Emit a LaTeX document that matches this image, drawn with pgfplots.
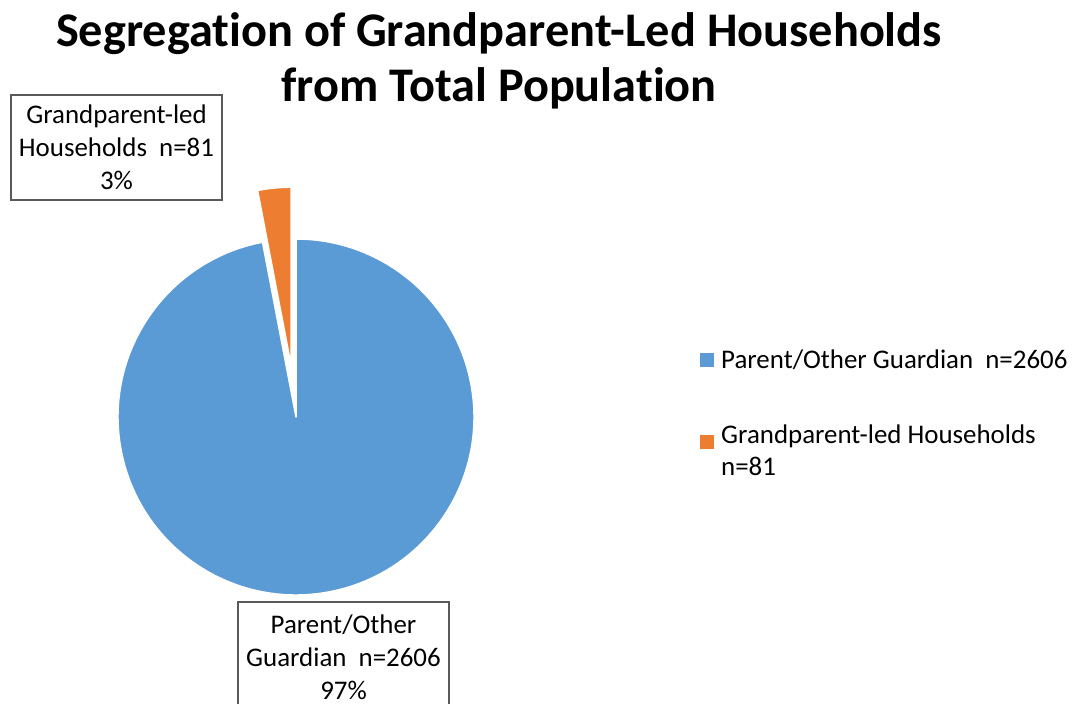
\documentclass[border=0pt]{standalone}
\usepackage{pgfplots}
\pgfplotsset{compat=1.18}
\usepackage{fontspec}
\setmainfont[Ligatures={NoCommon}]{Carlito}
\definecolor{pieblue}{HTML}{5B9BD5}
\definecolor{pieorange}{HTML}{ED7D31}
\definecolor{boxgray}{HTML}{595959}
\begin{document}
\begin{tikzpicture}
% data
\def\vA{2606}% Parent/Other Guardian
\def\vB{81}% Grandparent-led Households
\pgfmathsetmacro{\angB}{\vB/(\vA+\vB)*360}
\pgfmathsetmacro{\startA}{90+\angB}
\pgfmathsetmacro{\midB}{90+\angB/2}
\begin{axis}[at={(0,0)},anchor=south west,scale only axis,
  width=1072bp,height=704bp,xmin=0,xmax=1072,ymin=0,ymax=704,
  hide axis,clip=false]
% Parent/Other slice
\fill[pieblue,draw=white,line width=1.5bp,line join=round]
  (axis cs:296,287) -- ++(\startA:178bp) arc[start angle=\startA,end angle=450,radius=178bp] -- cycle;
% Grandparent slice (exploded)
\fill[pieorange,draw=white,line width=1.5bp,line join=round]
  (axis cs:296,287) ++(\midB:52bp) -- ++(90:178bp) arc[start angle=90,end angle=\startA,radius=178bp] -- cycle;
% title
\node[font=\fontsize{48.5}{55}\selectfont\bfseries,align=center] at (axis cs:499,643)
  {Segregation of Grandparent-Led Households\\from Total Population};
% data labels
\draw[boxgray,line width=1.2bp,fill=white] (axis cs:11,609) rectangle (axis cs:222,504);
\node[font=\fontsize{27}{33}\selectfont,align=center] at (axis cs:116.5,556.5)
  {Grandparent-led\\Households\ \ n=81\\3\%};
\draw[boxgray,line width=1.2bp] (axis cs:238,-5) -- (axis cs:238,102) -- (axis cs:449,102) -- (axis cs:449,-5);
\node[font=\fontsize{27}{33}\selectfont,align=center] at (axis cs:343.5,47)
  {Parent/Other\\Guardian\ \ n=2606\\97\%};
% legend
\fill[pieblue] (axis cs:700,337) rectangle (axis cs:714,351);
\node[font=\fontsize{27}{33}\selectfont,anchor=west,inner sep=0pt] at (axis cs:721,344) {Parent/Other Guardian\ \ n=2606};
\fill[pieorange] (axis cs:700,255) rectangle (axis cs:714,269);
\node[font=\fontsize{27}{32}\selectfont,anchor=north west,align=left,inner sep=0pt] at (axis cs:721,279) {Grandparent-led Households\\n=81};
\end{axis}
\pgfresetboundingbox
\path[use as bounding box] (0,0) rectangle (1072bp,704bp);
\end{tikzpicture}
\end{document}
